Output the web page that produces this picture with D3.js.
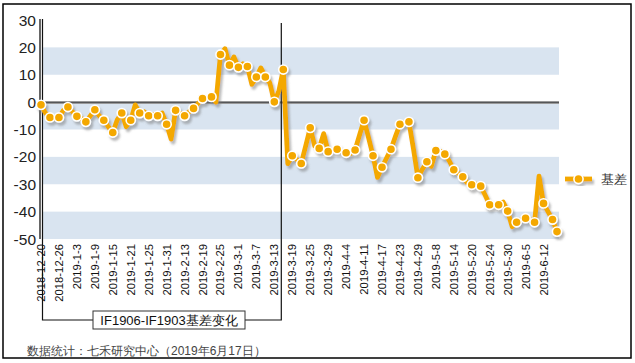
<!DOCTYPE html>
<html>
<head>
<meta charset="utf-8">
<script src="https://cdn.jsdelivr.net/npm/d3@7"></script>
<style>
  body { margin: 0; background: #fff; }
  svg { display: block; font-family: Arial, "Liberation Sans", sans-serif; }
</style>
</head>
<body>
<div id="chart"></div>
<script>
// trading days 2018-12-20 .. 2019-6-17
const dates = [
  "2018-12-20","2018-12-21","2018-12-24","2018-12-25","2018-12-26","2018-12-27","2018-12-28","2019-1-2","2019-1-3","2019-1-4",
  "2019-1-7","2019-1-8","2019-1-9","2019-1-10","2019-1-11","2019-1-14","2019-1-15","2019-1-16","2019-1-17","2019-1-18",
  "2019-1-21","2019-1-22","2019-1-23","2019-1-24","2019-1-25","2019-1-28","2019-1-29","2019-1-30","2019-1-31","2019-2-1",
  "2019-2-11","2019-2-12","2019-2-13","2019-2-14","2019-2-15","2019-2-18","2019-2-19","2019-2-20","2019-2-21","2019-2-22",
  "2019-2-25","2019-2-26","2019-2-27","2019-2-28","2019-3-1","2019-3-4","2019-3-5","2019-3-6","2019-3-7","2019-3-8",
  "2019-3-11","2019-3-12","2019-3-13","2019-3-14","2019-3-15","2019-3-18","2019-3-19","2019-3-20","2019-3-21","2019-3-22",
  "2019-3-25","2019-3-26","2019-3-27","2019-3-28","2019-3-29","2019-4-1","2019-4-2","2019-4-3","2019-4-4","2019-4-8",
  "2019-4-9","2019-4-10","2019-4-11","2019-4-12","2019-4-15","2019-4-16","2019-4-17","2019-4-18","2019-4-19","2019-4-22",
  "2019-4-23","2019-4-24","2019-4-25","2019-4-26","2019-4-29","2019-4-30","2019-5-6","2019-5-7","2019-5-8","2019-5-9",
  "2019-5-10","2019-5-13","2019-5-14","2019-5-15","2019-5-16","2019-5-17","2019-5-20","2019-5-21","2019-5-22","2019-5-23",
  "2019-5-24","2019-5-27","2019-5-28","2019-5-29","2019-5-30","2019-5-31","2019-6-3","2019-6-4","2019-6-5","2019-6-6",
  "2019-6-10","2019-6-11","2019-6-12","2019-6-13","2019-6-14","2019-6-17"
];

// basis IF1906-IF1903
const basis = [
  -1, -4, -5.6, -6, -5.6, -3, -1.8, -3.5, -5.2, -6,
  -7.2, -5, -2.8, -5, -6.6, -9, -11.1, -6.5, -4, -9,
  -6.6, -1, -4, -3.5, -5, -4.5, -5, -4, -8.1, -13.5,
  -3, -4, -5, -3.5, -2.3, -0.5, 1.3, 1.5, 1.9, 0,
  17.4, 19.5, 13.5, 16.5, 12.7, 14, 13, 6.5, 9.2, 12.5,
  9.2, 7, 0.1, 4, 11.9, -22.5, -19.6, -21, -22.4, -16,
  -9.4, -16, -16.9, -11.5, -18.1, -17.5, -17.2, -18, -18.5, -18.8,
  -17.5, -12, -6.6, -13, -19.6, -27.5, -23.8, -20.5, -17.2, -12.5,
  -8.1, -7.5, -7.2, -17, -27.6, -24.5, -21.8, -23.5, -17.7, -18,
  -19, -21.5, -24.7, -26, -27.3, -29.5, -30.2, -30, -30.7, -34,
  -37.5, -37.5, -37.5, -36.5, -39.8, -45.5, -43.9, -43, -42.4, -43,
  -43.9, -27, -37, -40, -42.9, -47.3
];

const yTicks = [30, 20, 10, 0, -10, -20, -30, -40, -50];
const bands = [[10, 20], [-10, 0], [-30, -20], [-50, -40]];
const seriesName = "基差";
const boxLabel = "IF1906-IF1903基差变化";
const caption = "数据统计：七禾研究中心（2019年6月17日）";
const splitDate = "2019-3-15"; // last day of the IF1903 period

const width = 635, height = 363;
const orange = "#F4A800";

const svg = d3.select("#chart").append("svg")
    .attr("width", width)
    .attr("height", height);

const defs = svg.append("defs");
const shadow = defs.append("filter").attr("id", "shadow")
    .attr("x", "-10%").attr("y", "-10%").attr("width", "130%").attr("height", "130%");
shadow.append("feDropShadow")
    .attr("dx", 2).attr("dy", 3).attr("stdDeviation", 1.2)
    .attr("flood-color", "#777").attr("flood-opacity", 0.5);

// outer frame
svg.append("rect")
    .attr("x", 3).attr("y", 4).attr("width", 628).attr("height", 354)
    .attr("fill", "#fff").attr("stroke", "#000").attr("stroke-width", 1.5);

const x = d3.scalePoint().domain(d3.range(dates.length)).range([41, 557]);
const y = d3.scaleLinear().domain([-50, 30]).range([239, 20]);

// bands
svg.append("g").selectAll("rect")
    .data(bands)
    .join("rect")
    .attr("x", 42)
    .attr("width", 517)
    .attr("y", d => y(d[1]))
    .attr("height", d => y(d[0]) - y(d[1]))
    .attr("fill", "#D9E4F0");

// zero line
svg.append("line")
    .attr("x1", 41).attr("x2", 559)
    .attr("y1", y(0)).attr("y2", y(0))
    .attr("stroke", "#9a9a9a").attr("stroke-width", 1.5)
    .attr("transform", "translate(0,1.2)");
svg.append("line")
    .attr("x1", 41).attr("x2", 559)
    .attr("y1", y(0)).attr("y2", y(0))
    .attr("stroke", "#333").attr("stroke-width", 1.2);

// y axis
svg.append("line")
    .attr("x1", 40).attr("x2", 40)
    .attr("y1", 19).attr("y2", 239)
    .attr("stroke", "#000").attr("stroke-width", 1.2);

svg.append("g").selectAll("text")
    .data(yTicks)
    .join("text")
    .attr("x", 36)
    .attr("y", d => y(d) + 5.5)
    .attr("text-anchor", "end")
    .attr("font-size", "15.5px")
    .attr("fill", "#222")
    .text(d => d);

// x tick labels every 4th trading day
const tickIdx = d3.range(0, dates.length - 3, 4);
svg.append("g").selectAll("text")
    .data(tickIdx)
    .join("text")
    .attr("transform", i => `translate(${x(i) + 4},244) rotate(-90)`)
    .attr("text-anchor", "end")
    .attr("font-size", "11.3px")
    .attr("fill", "#111")
    .text(i => dates[i]);

// bracket for the contract period
const xs = x(dates.indexOf(splitDate)) - 2;
const bracket = svg.append("g").attr("stroke", "#111").attr("stroke-width", 1.2).attr("fill", "none");
bracket.append("path").attr("d", `M42.5,19 V320 H93`);
bracket.append("path").attr("d", `M245,320 H${xs} V23`);

svg.append("rect")
    .attr("x", 93).attr("y", 311).attr("width", 152).attr("height", 18)
    .attr("fill", "#fff").attr("stroke", "#333").attr("stroke-width", 1);
svg.append("text")
    .attr("x", 169).attr("y", 325)
    .attr("text-anchor", "middle")
    .attr("font-size", "13px")
    .attr("fill", "#111")
    .text(boxLabel);

// series
const line = d3.line()
    .x((d, i) => x(i))
    .y(d => y(d));

const series = svg.append("g").attr("filter", "url(#shadow)");
series.append("path")
    .datum(basis)
    .attr("d", line)
    .attr("fill", "none")
    .attr("stroke", orange)
    .attr("stroke-width", 4.8)
    .attr("stroke-linejoin", "round");

const markerIdx = d3.range(0, basis.length, 2).concat([basis.length - 1]);
series.selectAll("circle")
    .data(markerIdx)
    .join("circle")
    .attr("cx", i => x(i))
    .attr("cy", i => y(basis[i]))
    .attr("r", 4.6)
    .attr("fill", orange)
    .attr("stroke", "#fff")
    .attr("stroke-width", 1.6);

// legend
const lg = svg.append("g").attr("filter", "url(#shadow)");
lg.append("line")
    .attr("x1", 565).attr("x2", 592).attr("y1", 179).attr("y2", 179)
    .attr("stroke", orange).attr("stroke-width", 4.8);
lg.append("circle")
    .attr("cx", 578.5).attr("cy", 179).attr("r", 4.6)
    .attr("fill", orange).attr("stroke", "#fff").attr("stroke-width", 1.6);
svg.append("text")
    .attr("x", 601).attr("y", 184)
    .attr("font-size", "12.5px")
    .attr("fill", "#333")
    .text(seriesName);

// caption
svg.append("text")
    .attr("x", 27).attr("y", 355)
    .attr("font-size", "12px")
    .attr("fill", "#444")
    .text(caption);
</script>
</body>
</html>
